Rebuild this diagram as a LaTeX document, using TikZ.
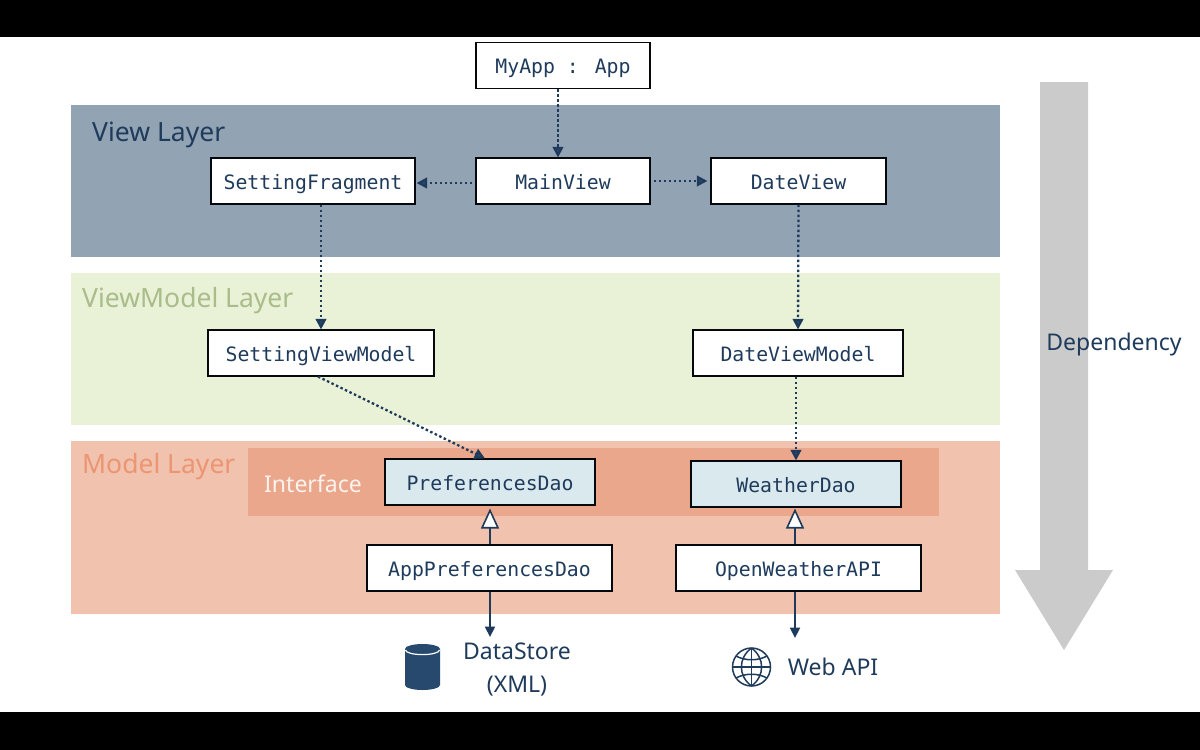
\documentclass[tikz,border=0pt]{standalone}
\usepackage{fontspec}
\setmainfont{Noto Sans}
\newfontfamily\codefont{DejaVu Sans Mono}
\usetikzlibrary{arrows.meta}
\definecolor{navy}{HTML}{1F3B5C}
\definecolor{tipblue}{HTML}{27496D}
\definecolor{viewbg}{HTML}{92A3B4}
\definecolor{vmbg}{HTML}{E9F2D7}
\definecolor{modelbg}{HTML}{F1C2AE}
\definecolor{ifacebg}{HTML}{EAA78B}
\definecolor{daobg}{HTML}{DAE9EE}
\definecolor{vmtext}{HTML}{A9BC8A}
\definecolor{modeltext}{HTML}{EC9573}
\definecolor{bigarrow}{HTML}{CBCBCB}
\tikzset{
  x=1pt,y=-1pt,
  classbox/.style={draw=black!85!navy,line width=1.1pt,fill=white,text=navy,inner sep=0pt,minimum height=46pt,text height=16pt,text depth=0pt,font=\codefont\fontsize{19.8}{24}\selectfont},
  daobox/.style={classbox,fill=daobg},
  layerlabel/.style={anchor=west,inner sep=0pt,text height=18pt,text depth=0pt,font=\fontsize{26.5}{30}\selectfont},
  plainlabel/.style={inner sep=0pt,text=navy,text height=17pt,text depth=0pt,font=\fontsize{23}{29}\selectfont},
  depends/.style={draw=navy,line width=2.3pt,dash pattern=on 2.5pt off 2.5pt,-{Triangle[length=10.5pt,width=10.5pt,fill=tipblue]}},
  realizes/.style={draw=navy,line width=1.6pt,-{Triangle[open,length=20pt,width=18pt,fill=white,line width=1.6pt]}},
  uses/.style={draw=navy,line width=2.2pt,-{Triangle[length=10.5pt,width=10pt]}},
}
\begin{document}
\begin{tikzpicture}
\useasboundingbox (0,0) rectangle (1200,750);
\fill[white] (0,0) rectangle (1200,750);
\fill[black] (0,0) rectangle (1200,37);
\fill[black] (0,712) rectangle (1200,750);
% layers
\fill[viewbg] (71,105) rectangle (1000,257);
\fill[vmbg] (71,273) rectangle (1000,425);
\fill[modelbg] (71,441) rectangle (1000,614);
\fill[ifacebg] (248,448) rectangle (939,516);
% big arrow
\fill[bigarrow] (1040,82) -- (1088,82) -- (1088,570) -- (1113,570) -- (1064,650) -- (1015,570) -- (1040,570) -- cycle;
% labels
\node[layerlabel,text=navy] (lview) at (92,132) {View Layer};
\node[layerlabel,text=vmtext] (lvm) at (82,298) {ViewModel Layer};
\node[layerlabel,text=modeltext] (lmodel) at (82,464) {Model Layer};
\node[layerlabel,text=white!80!modelbg,font=\fontsize{23}{29}\selectfont] (liface) at (264,483) {Interface};
\node[plainlabel] (ldep) at (1114,342) {Dependency};
% class boxes
\node[classbox,minimum width=174pt] (myapp) at (563,65.5) {MyApp : App};
\node[classbox,minimum width=174pt] (mainview) at (563,181) {MainView};
\node[classbox,minimum width=204pt] (setfrag) at (313,181) {SettingFragment};
\node[classbox,minimum width=175pt] (dateview) at (798.5,181) {DateView};
\node[classbox,minimum width=226pt] (setvm) at (321,353) {SettingViewModel};
\node[classbox,minimum width=210pt] (datevm) at (798,353) {DateViewModel};
\node[daobox,minimum width=210pt] (prefdao) at (490,482) {PreferencesDao};
\node[daobox,minimum width=210pt] (weatherdao) at (796,484) {WeatherDao};
\node[classbox,minimum width=245pt] (appdao) at (489.5,568) {AppPreferencesDao};
\node[classbox,minimum width=245pt] (owapi) at (798.5,568) {OpenWeatherAPI};
% dependency connectors
\draw[depends] ([xshift=-5pt]myapp.south) -- ([xshift=-5pt]mainview.north);
\draw[depends] ([xshift=-3pt,yshift=-2pt]mainview.west) -- ([xshift=1pt,yshift=-2pt]setfrag.east);
\draw[depends] ([xshift=3pt]mainview.east) -- ([xshift=-3pt]dateview.west);
\draw[depends] ([xshift=8pt]setfrag.south) -- ([xshift=0pt]setvm.north);
\draw[depends] (dateview.south) -- (datevm.north);
\draw[depends] ([xshift=-3pt]setvm.south) -- ([xshift=-5pt]prefdao.north);
\draw[depends] ([xshift=-2pt]datevm.south) -- (weatherdao.north);
% realization
\draw[realizes] ([xshift=0.5pt]appdao.north) -- ([yshift=-3pt]prefdao.south);
\draw[realizes] ([xshift=-3.5pt]owapi.north) -- ([xshift=-1pt,yshift=-1pt]weatherdao.south);
% external
\coordinate (dstore) at (490,637);
\coordinate (wapi) at (795,638);
\draw[uses] ([xshift=0.5pt]appdao.south) -- (dstore);
\draw[uses] ([xshift=-3.5pt]owapi.south) -- (wapi);
% cylinder icon
\fill[tipblue] (405,649) -- (405,685) arc[start angle=180,end angle=0,x radius=17.5,y radius=5] -- (440,649) arc[start angle=0,end angle=-180,x radius=17.5,y radius=5] -- cycle;
\draw[white,line width=1.2pt] (405.5,650) arc[start angle=180,end angle=0,x radius=17,y radius=4.6];
% globe icon
\begin{scope}[navy,line width=1.5pt]
\draw (751.5,667) circle[radius=19];
\draw (751.5,648) -- (751.5,686);
\draw (732.5,667) -- (770.5,667);
\draw (751.5,648) .. controls (738,658) and (738,676) .. (751.5,686);
\draw (751.5,648) .. controls (765,658) and (765,676) .. (751.5,686);
\draw (736,656) .. controls (745,661) and (758,661) .. (767,656);
\draw (736,678) .. controls (745,673) and (758,673) .. (767,678);
\end{scope}
\node[plainlabel] (ldata) at (517,651) {DataStore};
\node[plainlabel] (lxml) at (517,684) {(XML)};
\node[plainlabel] (lweb) at (833,667) {Web API};
\end{tikzpicture}
\end{document}
